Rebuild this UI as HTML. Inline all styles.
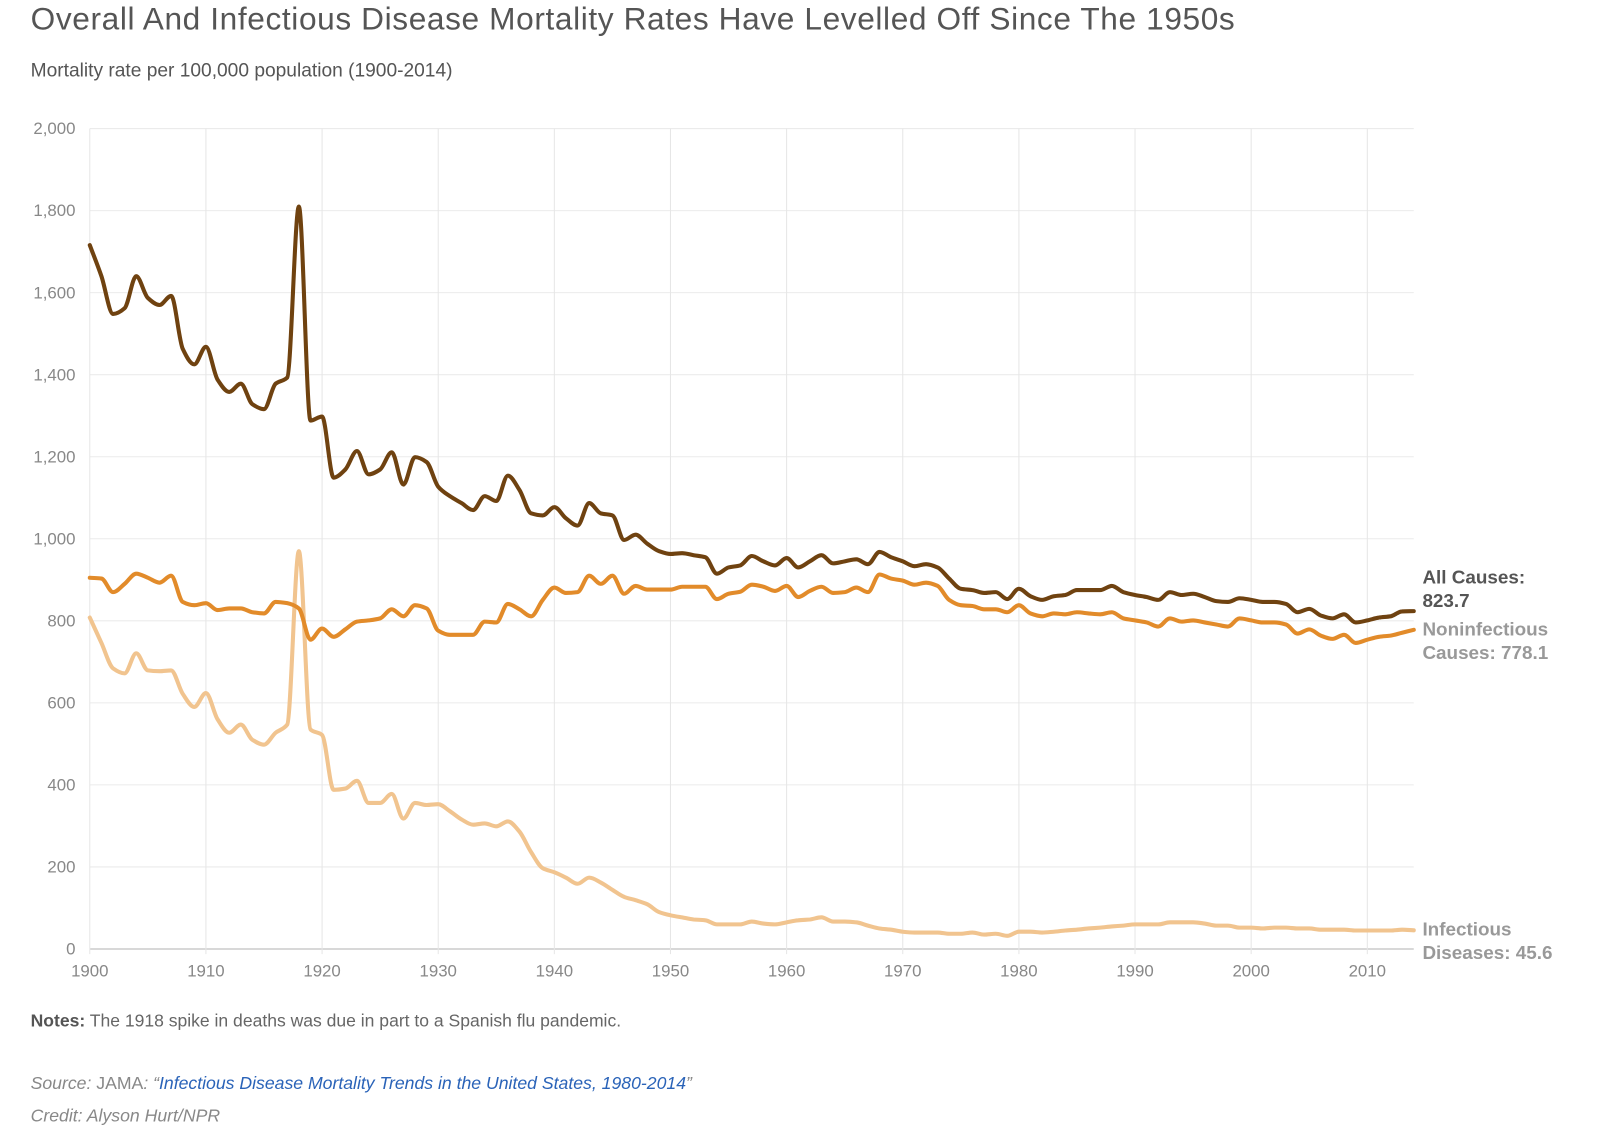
<!DOCTYPE html>
<html><head><meta charset="utf-8">
<style>
body{margin:0;background:#fff;width:1600px;height:1132px;overflow:hidden;font-family:"Liberation Sans",sans-serif;}
#wrap{position:absolute;left:0;top:0;width:1568px;height:1110px;transform:scale(1.0204);transform-origin:0 0;}
.title{position:absolute;left:30px;top:1px;font-size:31px;color:#555;letter-spacing:0.6px;white-space:nowrap;}
.sub{position:absolute;left:30px;top:58px;font-size:18.8px;color:#555;white-space:nowrap;}
.notes{position:absolute;left:30px;top:990px;font-size:17.2px;color:#666;white-space:nowrap;}
.src{position:absolute;left:30px;top:1051px;font-size:17.3px;color:#888;font-style:italic;white-space:nowrap;}
.src a{color:#2a63b8;text-decoration:none;}
.credit{position:absolute;left:30px;top:1083px;font-size:17.3px;color:#888;font-style:italic;white-space:nowrap;}
svg{position:absolute;left:0;top:0;}
</style></head><body>
<div id="wrap">
<div class="title">Overall And Infectious Disease Mortality Rates Have Levelled Off Since The 1950s</div>
<div class="sub">Mortality rate per 100,000 population (1900-2014)</div>
<svg id="chart" width="1568" height="1110"></svg>
<div class="notes"><b style="color:#555">Notes:</b> The 1918 spike in deaths was due in part to a Spanish flu pandemic.</div>
<div class="src">Source: <span style="font-style:normal">JAMA</span>: “<a href="#">Infectious Disease Mortality Trends in the United States, 1980-2014</a>”</div>
<div class="credit">Credit: Alyson Hurt/NPR</div>
</div>
<script>
const startYear = 1900;
const allCauses = [1716,1640,1548,1562,1640,1587,1570,1592,1463,1425,1468,1388,1358,1378,1328,1316,1378,1393,1810,1288,1298,1149,1169,1214,1157,1169,1211,1132,1199,1187,1127,1104,1087,1070,1104,1092,1154,1119,1062,1057,1077,1050,1032,1087,1062,1057,997,1010,988,970,963,965,960,955,915,930,935,958,945,935,953,930,945,960,940,945,950,938,968,955,945,933,938,930,903,878,875,868,870,853,878,860,851,860,863,875,875,875,885,870,863,858,851,870,863,866,858,848,846,855,851,846,846,841,821,829,813,806,816,796,801,808,811,823,823.7];
const nonInfectious = [905,903,870,890,915,905,893,910,846,838,843,826,830,830,821,818,846,843,830,754,781,761,779,798,801,806,828,811,838,830,776,766,766,766,798,796,841,828,811,851,881,868,870,910,890,910,866,885,876,876,876,883,883,883,853,866,871,888,883,873,885,858,873,883,868,870,881,870,913,903,898,888,893,885,851,838,836,828,828,821,838,818,811,818,816,821,818,816,821,806,801,796,786,806,798,801,796,791,786,806,801,796,796,791,769,779,764,756,766,746,754,761,764,771,778.1];
const infectious = [808,746,684,672,721,679,677,679,622,590,624,560,527,547,510,498,527,547,970,535,522,388,391,410,356,356,378,318,356,351,353,336,316,303,306,299,311,286,236,197,187,174,159,174,162,144,127,119,109,90,82,77,72,70,60,60,60,67,62,60,65,70,72,77,67,67,65,57,50,47,42,40,40,40,37,37,40,35,37,32,42,42,40,42,45,47,50,52,55,57,60,60,60,65,65,65,62,57,57,52,52,50,52,52,50,50,47,47,47,45,45,45,45,47,45.6];
const yTicks = [0,200,400,600,800,1000,1200,1400,1600,1800,2000];
const xTicks = [1900,1910,1920,1930,1940,1950,1960,1970,1980,1990,2000,2010];

const NS='http://www.w3.org/2000/svg';
const svg=document.getElementById('chart');
const x0=88,x1=1385.5,y0=930,y1=126;
const xs=yr=>x0+(yr-1900)/(2014-1900)*(x1-x0);
const ys=v=>y0-(v/2000)*(y0-y1);
function mk(t,a){const e=document.createElementNS(NS,t);for(const k in a)e.setAttribute(k,a[k]);svg.appendChild(e);return e;}
yTicks.forEach(v=>{
  const l=mk('line',{x1:x0,x2:x1,y1:ys(v),y2:ys(v),stroke:v===0?'#ccc':'#ebebeb','stroke-width':v===0?1.5:1});
  
  
  const t=mk('text',{x:74,y:ys(v)+5.5,'text-anchor':'end','font-size':16.5,fill:'#888','font-family':'Liberation Sans'});
  t.textContent=v.toLocaleString('en-US');
  
  
});
xTicks.forEach(v=>{
  const l=mk('line',{x1:xs(v),x2:xs(v),y1:y1,y2:y0+5,stroke:'#e6e6e6','stroke-width':1});
  
  
  const t=mk('text',{x:xs(v),y:957,'text-anchor':'middle','font-size':16.5,fill:'#888','font-family':'Liberation Sans'});
  t.textContent=v;
  
  
});
// monotone-X cubic path
function monoPath(px,py){
  const n=px.length,m=new Array(n),d=[];
  for(let i=0;i<n-1;i++)d.push((py[i+1]-py[i])/(px[i+1]-px[i]));
  m[0]=d[0];m[n-1]=d[n-2];
  for(let i=1;i<n-1;i++){m[i]=(d[i-1]*d[i]<=0)?0:(2/(1/d[i-1]+1/d[i]));}
  let s='M'+px[0].toFixed(1)+','+py[0].toFixed(1);
  for(let i=0;i<n-1;i++){
    const h=(px[i+1]-px[i])/3;
    s+='C'+(px[i]+h).toFixed(1)+','+(py[i]+m[i]*h).toFixed(1)+' '+(px[i+1]-h).toFixed(1)+','+(py[i+1]-m[i+1]*h).toFixed(1)+' '+px[i+1].toFixed(1)+','+py[i+1].toFixed(1);
  }
  return s;
}
function line(arr,color,name){
  const d=monoPath(arr.map((v,i)=>xs(startYear+i)),arr.map(v=>ys(v)));
  const p=mk('path',{d:d,fill:'none',stroke:color,'stroke-width':4,'stroke-linejoin':'round','stroke-linecap':'round'});
  
  
}
line(infectious,'#f1c48f','infectious-line');
line(nonInfectious,'#e28b2a','noninfectious-line');
line(allCauses,'#6f4210','all-causes-line');
function lab(lines,yv,color,name){
  lines.forEach((s,i)=>{
    const t=mk('text',{x:1394,y:yv+i*23,'font-size':18.5,'font-weight':'bold',fill:color,'font-family':'Liberation Sans'});
    t.textContent=s;
    
    
  });
}
lab(['All Causes:','823.7'],572,'#555','all-causes-label');
lab(['Noninfectious','Causes: 778.1'],623,'#999','noninfectious-label');
lab(['Infectious','Diseases: 45.6'],917,'#999','infectious-label');
</script>
</body></html>
